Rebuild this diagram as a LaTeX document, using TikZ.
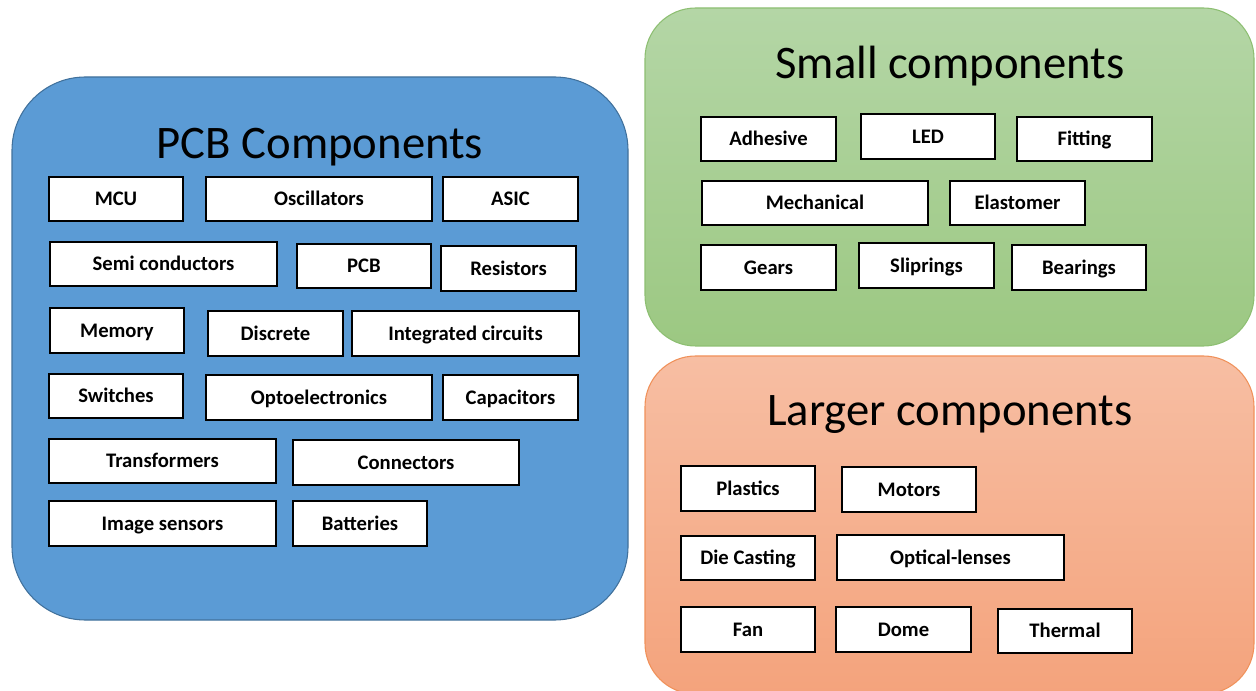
\documentclass[tikz,border=0pt]{standalone}
\usepackage{fontspec}
\setmainfont{Carlito}
\usetikzlibrary{fit}
\definecolor{pcbblue}{HTML}{5B9BD5}
\definecolor{pcbedge}{HTML}{41719C}
\definecolor{smalltop}{HTML}{B4D6A6}
\definecolor{smallbot}{HTML}{9CC882}
\definecolor{smalledge}{HTML}{8DBF72}
\definecolor{largetop}{HTML}{F7BEA3}
\definecolor{largebot}{HTML}{F4A37C}
\definecolor{largeedge}{HTML}{F0915A}
\begin{document}
\begin{tikzpicture}[
    x=0.75pt, y=-0.75pt,
    panel/.style={rectangle, inner sep=0pt, line width=0.8pt},
    title/.style={font=\fontsize{35}{40}\selectfont, inner sep=0pt},
    item/.style={rectangle, draw=black, line width=1.5pt, fill=white, inner sep=0pt, minimum width=101pt, minimum height=33.5pt, text height=11pt, text depth=1pt, font=\fontsize{15.5}{18}\bfseries},
    wide/.style={item, minimum width=170pt}
]
\useasboundingbox (0,0) rectangle (1256,691);

% panels
\node[panel, draw=pcbedge, fill=pcbblue, rounded corners=55pt, fit={(12,77) (628,620)}] (pcbpanel) {};
\node[panel, draw=smalledge, top color=smalltop, bottom color=smallbot, rounded corners=38pt, fit={(645,8) (1254,346)}] (smallpanel) {};
\node[panel, draw=largeedge, top color=largetop, bottom color=largebot, rounded corners=38pt, fit={(645,356) (1254,694)}] (largepanel) {};

\node[title] (pcbtitle) at (320,147) {PCB Components};
\node[title] (smalltitle) at (950,66) {Small components};
\node[title] (largetitle) at (950,415) {Larger components};

% PCB components
\node[item] (mcu) at (116,199) {MCU};
\node[wide] (osc) at (319,199) {Oscillators};
\node[item] (asic) at (510.5,199) {ASIC};
\node[wide] (semi) at (163.5,264) {Semi conductors};
\node[item] (pcb) at (364,266) {PCB};
\node[item] (resist) at (508.5,268.5) {Resistors};
\node[item] (memory) at (117,330.5) {Memory};
\node[item] (discrete) at (275.5,333.5) {Discrete};
\node[wide] (ic) at (465.5,333.5) {Integrated circuits};
\node[item] (switch) at (116,396) {Switches};
\node[wide] (opto) at (319,397.5) {Optoelectronics};
\node[item] (cap) at (510.5,397.5) {Capacitors};
\node[wide] (trafo) at (162.5,461) {Transformers};
\node[wide] (conn) at (406,462.5) {Connectors};
\node[wide] (imgsens) at (162.5,523.5) {Image sensors};
\node[item] (batt) at (360,523.5) {Batteries};

% small components
\node[item] (adhesive) at (768.5,139) {Adhesive};
\node[item] (led) at (928,136.5) {LED};
\node[item] (fitting) at (1084.5,139) {Fitting};
\node[wide] (mech) at (815,203) {Mechanical};
\node[item] (elast) at (1017.5,203) {Elastomer};
\node[item] (gears) at (768.5,267.5) {Gears};
\node[item] (slip) at (926.5,265.5) {Sliprings};
\node[item] (bear) at (1079,267.5) {Bearings};

% larger components
\node[item] (plastics) at (748,488.5) {Plastics};
\node[item] (motors) at (909,489.5) {Motors};
\node[item] (diecast) at (748,558) {Die Casting};
\node[wide] (optic) at (950.5,557.5) {Optical-lenses};
\node[item] (fan) at (748,629.5) {Fan};
\node[item] (dome) at (903.5,629.5) {Dome};
\node[item] (thermal) at (1065,631) {Thermal};
\end{tikzpicture}
\end{document}
